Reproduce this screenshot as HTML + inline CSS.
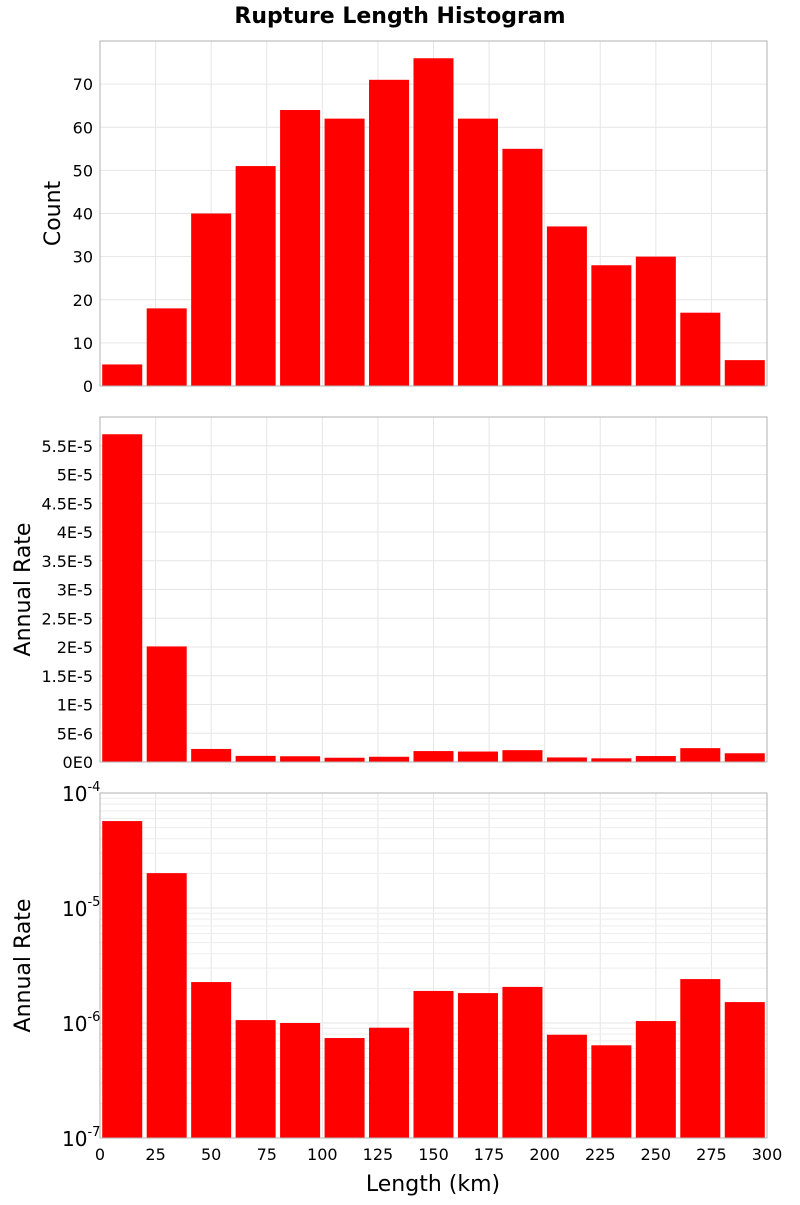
<!DOCTYPE html>
<html><head><meta charset="utf-8">
<style>
body{margin:0;background:#fff;font-family:"Liberation Sans","DejaVu Sans",sans-serif;}
svg text{font-family:"DejaVu Sans","Liberation Sans",sans-serif;}
</style></head>
<body>
<svg id="chart" width="800" height="1200" xmlns="http://www.w3.org/2000/svg">
<text x="400" y="23" text-anchor="middle" font-size="22" font-weight="bold">Rupture Length Histogram</text>
</svg>
<script>
const binCenters = [10,30,50,70,90,110,130,150,170,190,210,230,250,270,290];
const counts = [5,18,40,51,64,62,71,76,62,55,37,28,30,17,6];
const rates = [5.7e-5,2.01e-5,2.27e-6,1.06e-6,1.0e-6,7.4e-7,9.1e-7,1.9e-6,1.82e-6,2.06e-6,7.9e-7,6.4e-7,1.04e-6,2.41e-6,1.52e-6];
const xTicks = [0,25,50,75,100,125,150,175,200,225,250,275,300];
const countTicks = [0,10,20,30,40,50,60,70];
const rateTicks = [0,5e-6,1e-5,1.5e-5,2e-5,2.5e-5,3e-5,3.5e-5,4e-5,4.5e-5,5e-5,5.5e-5];
const rateTickLabels = ["0E0","5E-6","1E-5","1.5E-5","2E-5","2.5E-5","3E-5","3.5E-5","4E-5","4.5E-5","5E-5","5.5E-5"];
const logDecades = [-7,-6,-5,-4];

const svg = document.getElementById('chart');
const NS = 'http://www.w3.org/2000/svg';
const X0 = 100, X1 = 767, BIN = 20, BARFRAC = 0.9;
const xs = v => X0 + (v/300)*(X1-X0);
function mk(tag, attrs, parent){const e=document.createElementNS(NS,tag);for(const k in attrs)e.setAttribute(k,attrs[k]);(parent||svg).appendChild(e);return e;}

function panel(top, bottom, ys, yTickVals, yTickLabs, values, title, name, isLog){
  const g = mk('g',{});
  
  
  // grid x
  xTicks.forEach(t=>{
    const l = mk('line',{x1:xs(t),x2:xs(t),y1:top,y2:bottom,stroke:'#e6e6e6','stroke-width':1},g);
    
    
  });
  if(isLog){
    logDecades.forEach((d,i)=>{
      if(i<logDecades.length-1){for(let m=2;m<10;m++){
        const y = ys(m*Math.pow(10,d));
        const l = mk('line',{x1:X0,x2:X1,y1:y,y2:y,stroke:'#eeeeee','stroke-width':1},g);
        
        
      }}
    });
  }
  yTickVals.forEach(t=>{
    const y = ys(t);
    const l = mk('line',{x1:X0,x2:X1,y1:y,y2:y,stroke:'#e6e6e6','stroke-width':1},g);
    
    
  });
  // bars
  values.forEach((v,i)=>{
    const c = binCenters[i], w = BIN*BARFRAC;
    const xa = xs(c-w/2), xb = xs(c+w/2);
    const y = ys(v);
    const r = mk('rect',{x:xa,y:y,width:xb-xa,height:bottom-y,fill:'#ff0000'},g);
    
    
  });
  const fr = mk('rect',{x:X0,y:top,width:X1-X0,height:bottom-top,fill:'none',stroke:'#b0b0b0','stroke-width':1},g);
  
  
  // y tick labels
  yTickVals.forEach((t,i)=>{
    const y = ys(t);
    if(isLog){
      const tx = mk('text',{x:92,y:y+8,'text-anchor':'end','font-size':20},g);
      
      
      tx.textContent='10';
      const sp = mk('tspan',{dy:-10,'font-size':13},tx);
      sp.textContent = yTickLabs[i];
      tx.setAttribute('x',62);
      tx.setAttribute('text-anchor','start');
    } else {
      const tx = mk('text',{x:93,y:y+6,'text-anchor':'end','font-size':16},g);
      
      
      tx.textContent = yTickLabs[i];
    }
  });
  const cy = (top+bottom)/2;
  const tt = mk('text',{x:0,y:0,'text-anchor':'middle','font-size':22,transform:`translate(${isLog||name==='rate-panel'?30:60},${cy}) rotate(-90)`},g);
  
  
  tt.textContent = title;
}

// panel 1
const p1t=41,p1b=386; const ys1 = v => p1b - v/80*(p1b-p1t);
panel(p1t,p1b,ys1,countTicks,countTicks.map(String),counts,'Count','count-panel',false);
// panel 2
const p2t=417,p2b=762; const ys2 = v => p2b - v/6e-5*(p2b-p2t);
panel(p2t,p2b,ys2,rateTicks,rateTickLabels,rates,'Annual Rate','rate-panel',false);
// panel 3
const p3t=793,p3b=1138; const ys3 = v => p3b - (Math.log10(v)+7)/3*(p3b-p3t);
panel(p3t,p3b,ys3,logDecades.map(d=>Math.pow(10,d)),logDecades.map(String),rates,'Annual Rate','log-rate-panel',true);

// x ticks
xTicks.forEach(t=>{
  const tx = mk('text',{x:xs(t),y:1160,'text-anchor':'middle','font-size':16});
  
  
  tx.textContent = t;
});
const xt = mk('text',{x:433,y:1191,'text-anchor':'middle','font-size':22});


xt.textContent='Length (km)';
</script>
</body></html>
